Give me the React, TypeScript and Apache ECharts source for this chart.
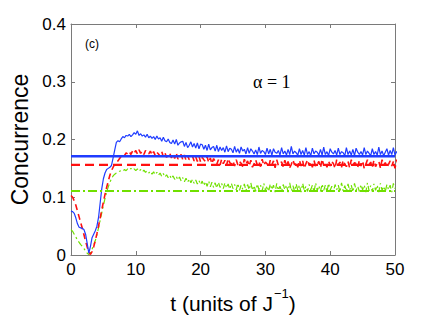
import React, { useEffect, useRef } from "react";
import * as echarts from "echarts";

// sampling step of the time grid (units of 1/J)
const T_STEP = 0.25;

const xTicks = [0, 10, 20, 30, 40, 50];
const yTicks = [0, 0.1, 0.2, 0.3, 0.4];

// steady-state reference levels
const levelBlue = 0.171;
const levelRed = 0.156;
const levelGreen = 0.111;

const blueSeries = [
  0.076, 0.075, 0.072, 0.064, 0.054, 0.048, 0.047, 0.046, 0.044, 0.036, 0.02, 0.003,
  0.015, 0.03, 0.036, 0.042, 0.05, 0.065, 0.09, 0.115, 0.132, 0.142, 0.148, 0.15,
  0.152, 0.155, 0.168, 0.182, 0.195, 0.198, 0.196, 0.201, 0.205, 0.203, 0.207, 0.206,
  0.209, 0.205, 0.208, 0.212, 0.209, 0.215, 0.207, 0.21, 0.206, 0.208, 0.204, 0.209,
  0.203, 0.206, 0.202, 0.205, 0.2, 0.206, 0.201, 0.203, 0.197, 0.204, 0.198, 0.196,
  0.201, 0.195, 0.193, 0.199, 0.192, 0.2, 0.19, 0.194, 0.196, 0.197, 0.188, 0.195,
  0.186, 0.19, 0.196, 0.187, 0.193, 0.185, 0.194, 0.184, 0.192, 0.191, 0.183, 0.19,
  0.181, 0.192, 0.182, 0.186, 0.188, 0.18, 0.19, 0.179, 0.187, 0.181, 0.186, 0.178,
  0.189, 0.179, 0.185, 0.183, 0.177, 0.188, 0.178, 0.184, 0.176, 0.187, 0.18, 0.183,
  0.175, 0.186, 0.176, 0.184, 0.18, 0.175, 0.182, 0.174, 0.187, 0.176, 0.181, 0.179,
  0.174, 0.185, 0.175, 0.183, 0.173, 0.184, 0.178, 0.176, 0.181, 0.173, 0.186, 0.175,
  0.18, 0.173, 0.183, 0.174, 0.188, 0.175, 0.18, 0.177, 0.173, 0.184, 0.174, 0.181,
  0.173, 0.186, 0.174, 0.179, 0.172, 0.185, 0.175, 0.18, 0.178, 0.173, 0.183, 0.173,
  0.187, 0.174, 0.179, 0.172, 0.184, 0.178, 0.175, 0.181, 0.173, 0.185, 0.174, 0.179,
  0.177, 0.172, 0.186, 0.174, 0.18, 0.173, 0.183, 0.172, 0.185, 0.178, 0.174, 0.179,
  0.173, 0.186, 0.174, 0.18, 0.176, 0.172, 0.184, 0.174, 0.179, 0.173, 0.187, 0.174,
  0.18, 0.172, 0.178, 0.184, 0.173, 0.181, 0.174, 0.186, 0.173, 0.179, 0.176, 0.172,
  0.185, 0.174, 0.18, 0.173, 0.184, 0.174, 0.181, 0.172, 0.185, 0.176,
];

const redSeries = [
  0.103, 0.1, 0.094, 0.086, 0.076, 0.066, 0.056, 0.046, 0.035, 0.024, 0.014, 0.005,
  0.001, 0.006, 0.014, 0.025, 0.037, 0.05, 0.064, 0.078, 0.092, 0.105, 0.117, 0.128,
  0.138, 0.146, 0.152, 0.157, 0.16, 0.163, 0.167, 0.171, 0.174, 0.172, 0.177, 0.175,
  0.179, 0.174, 0.18, 0.176, 0.181, 0.175, 0.182, 0.176, 0.18, 0.174, 0.181, 0.178,
  0.175, 0.18, 0.173, 0.179, 0.172, 0.178, 0.175, 0.171, 0.179, 0.17, 0.177, 0.169,
  0.173, 0.176, 0.168, 0.175, 0.167, 0.176, 0.166, 0.17, 0.174, 0.165, 0.173, 0.164,
  0.172, 0.165, 0.168, 0.171, 0.163, 0.17, 0.162, 0.171, 0.161, 0.169, 0.165, 0.162,
  0.17, 0.16, 0.168, 0.158, 0.167, 0.162, 0.157, 0.165, 0.156, 0.166, 0.158, 0.164,
  0.155, 0.167, 0.16, 0.157, 0.163, 0.154, 0.165, 0.156, 0.162, 0.159, 0.153, 0.166,
  0.157, 0.163, 0.154, 0.164, 0.152, 0.158, 0.165, 0.156, 0.162, 0.153, 0.166, 0.155,
  0.161, 0.158, 0.152, 0.164, 0.156, 0.163, 0.151, 0.165, 0.155, 0.159, 0.161, 0.153,
  0.164, 0.154, 0.162, 0.151, 0.157, 0.165, 0.156, 0.16, 0.152, 0.164, 0.154, 0.163,
  0.15, 0.158, 0.165, 0.155, 0.161, 0.152, 0.164, 0.153, 0.157, 0.162, 0.151, 0.166,
  0.155, 0.16, 0.152, 0.163, 0.154, 0.162, 0.158, 0.15, 0.165, 0.156, 0.161, 0.152,
  0.164, 0.157, 0.153, 0.162, 0.151, 0.165, 0.155, 0.16, 0.158, 0.152, 0.164, 0.154,
  0.163, 0.15, 0.157, 0.165, 0.156, 0.161, 0.152, 0.164, 0.153, 0.159, 0.162, 0.151,
  0.165, 0.155, 0.16, 0.152, 0.157, 0.163, 0.154, 0.162, 0.15, 0.165, 0.156, 0.161,
  0.158, 0.152, 0.158,
];

const greenSeries = [
  0.044, 0.041, 0.036, 0.031, 0.026, 0.022, 0.018, 0.015, 0.011, 0.007, 0.003, 0.001,
  0.004, 0.01, 0.017, 0.025, 0.035, 0.047, 0.06, 0.073, 0.086, 0.098, 0.109, 0.118,
  0.126, 0.132, 0.137, 0.14, 0.142, 0.143, 0.145, 0.146, 0.145, 0.148, 0.146, 0.149,
  0.147, 0.15, 0.147, 0.149, 0.146, 0.149, 0.145, 0.148, 0.144, 0.147, 0.143, 0.146,
  0.142, 0.145, 0.14, 0.144, 0.139, 0.143, 0.138, 0.142, 0.136, 0.141, 0.135, 0.139,
  0.134, 0.138, 0.132, 0.137, 0.131, 0.136, 0.13, 0.135, 0.128, 0.134, 0.127, 0.133,
  0.126, 0.132, 0.125, 0.131, 0.124, 0.13, 0.123, 0.129, 0.122, 0.128, 0.12, 0.127,
  0.119, 0.128, 0.118, 0.126, 0.117, 0.125, 0.116, 0.126, 0.117, 0.124, 0.115, 0.125,
  0.116, 0.123, 0.114, 0.124, 0.115, 0.122, 0.113, 0.124, 0.112, 0.121, 0.114, 0.123,
  0.111, 0.122, 0.113, 0.125, 0.112, 0.12, 0.11, 0.123, 0.113, 0.121, 0.111, 0.124,
  0.112, 0.12, 0.11, 0.123, 0.113, 0.121, 0.109, 0.124, 0.112, 0.119, 0.11, 0.122,
  0.113, 0.121, 0.109, 0.125, 0.111, 0.12, 0.11, 0.123, 0.112, 0.121, 0.109, 0.124,
  0.112, 0.119, 0.11, 0.122, 0.113, 0.121, 0.109, 0.125, 0.111, 0.12, 0.11, 0.123,
  0.112, 0.121, 0.109, 0.124, 0.112, 0.119, 0.11, 0.122, 0.113, 0.121, 0.109, 0.125,
  0.111, 0.12, 0.11, 0.123, 0.112, 0.121, 0.109, 0.124, 0.112, 0.119, 0.11, 0.122,
  0.113, 0.121, 0.109, 0.125, 0.111, 0.12, 0.11, 0.123, 0.112, 0.121, 0.109, 0.124,
  0.112, 0.119, 0.11, 0.122, 0.113, 0.121, 0.109, 0.124, 0.115,
];

const BLUE = "#1f3cff";
const RED = "#ff1010";
const GREEN = "#70e000";
const FRAME = "#7a7a7a";
const SANS = "'Liberation Sans', Arial, Helvetica, sans-serif";

function pairs(vals: number[]) {
  return vals.map((v, i) => [i * T_STEP, v]);
}

function flat(level: number) {
  return [
    [xTicks[0], level],
    [xTicks[xTicks.length - 1], level],
  ];
}

export default function App() {
  const ref = useRef<HTMLDivElement>(null);
  useEffect(() => {
    if (!ref.current) return;
    document.body.style.margin = "0";
    const chart = echarts.init(ref.current, undefined, { renderer: "svg" });
    const axisCommon = {
      type: "value" as const,
      axisLine: { show: true, onZero: false, lineStyle: { color: FRAME, width: 1 } },
      axisTick: { show: true, inside: true, length: 4, lineStyle: { color: FRAME } },
      splitLine: { show: false },
    };
    chart.setOption({
      animation: false,
      backgroundColor: "#ffffff",
      grid: { left: 66, right: 41, top: 24, bottom: 61, containLabel: false },
      xAxis: [
        {
          ...axisCommon,
          min: xTicks[0],
          max: xTicks[xTicks.length - 1],
          interval: 10,
          position: "bottom",
          axisLabel: { color: "#000", fontSize: 17, fontFamily: SANS, margin: 6 },
          name: "{a|t (units of J}{s|−1}{a|)}",
          nameLocation: "middle",
          nameGap: 32,
          nameTextStyle: {
            rich: {
              a: { fontSize: 21, fontFamily: SANS, color: "#000", lineHeight: 27, verticalAlign: "bottom" },
              s: { fontSize: 13, fontFamily: SANS, color: "#000", lineHeight: 27, verticalAlign: "top", padding: [0, 0, 0, 1] },
            },
          },
        },
        {
          ...axisCommon,
          min: xTicks[0],
          max: xTicks[xTicks.length - 1],
          interval: 10,
          position: "top",
          axisLabel: { show: false },
        },
      ],
      yAxis: [
        {
          ...axisCommon,
          min: yTicks[0],
          max: yTicks[yTicks.length - 1],
          interval: 0.1,
          position: "left",
          axisLabel: { color: "#000", fontSize: 17, fontFamily: SANS, margin: 5 },
          name: "Concurrence",
          nameLocation: "middle",
          nameGap: 40,
          nameRotate: 90,
          nameTextStyle: { fontSize: 23, fontFamily: SANS, color: "#000" },
        },
        {
          ...axisCommon,
          min: yTicks[0],
          max: yTicks[yTicks.length - 1],
          interval: 0.1,
          position: "right",
          axisLabel: { show: false },
        },
      ],
      series: [
        {
          type: "line",
          data: flat(levelBlue),
          showSymbol: false,
          lineStyle: { color: BLUE, width: 2.6 },
          z: 3,
        },
        {
          type: "line",
          data: flat(levelRed),
          showSymbol: false,
          lineStyle: { color: RED, width: 2.4, type: [9, 5] },
          z: 3,
        },
        {
          type: "line",
          data: flat(levelGreen),
          showSymbol: false,
          lineStyle: { color: GREEN, width: 2, type: [9, 3, 2, 3] },
          z: 3,
        },
        {
          type: "line",
          data: pairs(greenSeries),
          showSymbol: false,
          lineStyle: { color: GREEN, width: 1.2, type: [6, 3, 2, 3] },
          z: 2,
        },
        {
          type: "line",
          data: pairs(redSeries),
          showSymbol: false,
          lineStyle: { color: RED, width: 1.6, type: [6, 4] },
          z: 2,
        },
        {
          type: "line",
          data: pairs(blueSeries),
          showSymbol: false,
          lineStyle: { color: BLUE, width: 1.2 },
          z: 2,
        },
      ],
      graphic: [
        {
          type: "text",
          left: 85,
          top: 38,
          style: { text: "(c)", fontSize: 12, fontFamily: SANS, fill: "#000" },
        },
        {
          type: "text",
          left: 253,
          top: 73,
          style: {
            text: "α = 1",
            fontSize: 18,
            fontFamily: "'Liberation Serif', 'Times New Roman', serif",
            fill: "#000",
          },
        },
      ],
    });
    return () => chart.dispose();
  }, []);
  return <div ref={ref} style={{ width: 436, height: 319 }} />;
}
